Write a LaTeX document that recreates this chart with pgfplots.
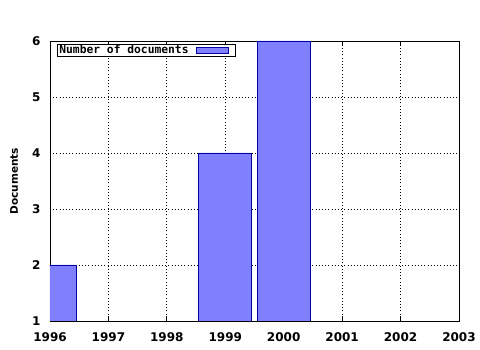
\documentclass[border=0pt]{standalone}
\usepackage{pgfplots}
\pgfplotsset{compat=1.18}
\usepackage{fontspec}
\setmainfont{DejaVu Sans}
\newfontfamily\monofont{DejaVu Sans Mono}
\definecolor{barfill}{HTML}{8080FF}
\definecolor{baredge}{HTML}{0000A0}
\begin{document}
\begin{tikzpicture}
\useasboundingbox (0pt,0pt) rectangle (480pt,350pt);
\begin{axis}[
  at={(50pt,29pt)}, anchor=south west,
  scale only axis, width=409pt, height=280pt,
  xmin=1996, xmax=2003, ymin=1, ymax=6,
  xtick={1996,...,2003}, ytick={1,...,6},
  minor x tick num=3,
  xmajorgrids, ymajorgrids,
  major grid style={black, line width=0.8pt, dash pattern=on 1pt off 2.2pt},
  axis line style={black, line width=0.8pt},
  x tick style={black, line width=0.8pt},
  xtick pos=both, ytick pos=left,
  tick align=inside,
  major tick length=5pt, minor tick length=2.5pt,
  y tick style={draw=none},
  /pgf/number format/1000 sep={},
  /pgf/number format/assume math mode=true,
  tick label style={font=\fontsize{12}{12}\selectfont\bfseries},
  xticklabel style={yshift=-8pt},
  yticklabel style={xshift=-6pt},
  ylabel={Documents},
  ylabel style={at={(rel axis cs:-0.088,0.5)}, anchor=center, font=\fontsize{10.5}{12}\selectfont\bfseries},
  legend style={at={(0.017,0.99)}, anchor=north west, draw=black, line width=0.8pt, fill=white,
    font=\fontsize{11.3}{12}\selectfont\monofont\bfseries, inner xsep=1pt, inner ysep=0pt,
    row sep=0pt, nodes={inner sep=1pt}},
  legend cell align=left,
  legend plot pos=right,
  legend image code/.code={\path[draw=none,fill=none] (0pt,0pt) -- (45pt,0pt);\draw[#1, line width=0.8pt] (7pt,-3pt) rectangle (39pt,3pt);},
]
\addplot[ybar, bar width=0.91, fill=barfill, draw=baredge, line width=0.8pt]
  coordinates {(1996,2) (1999,4) (2000,6)};
\addlegendentry{Number of documents}
\end{axis}
\end{tikzpicture}
\end{document}
